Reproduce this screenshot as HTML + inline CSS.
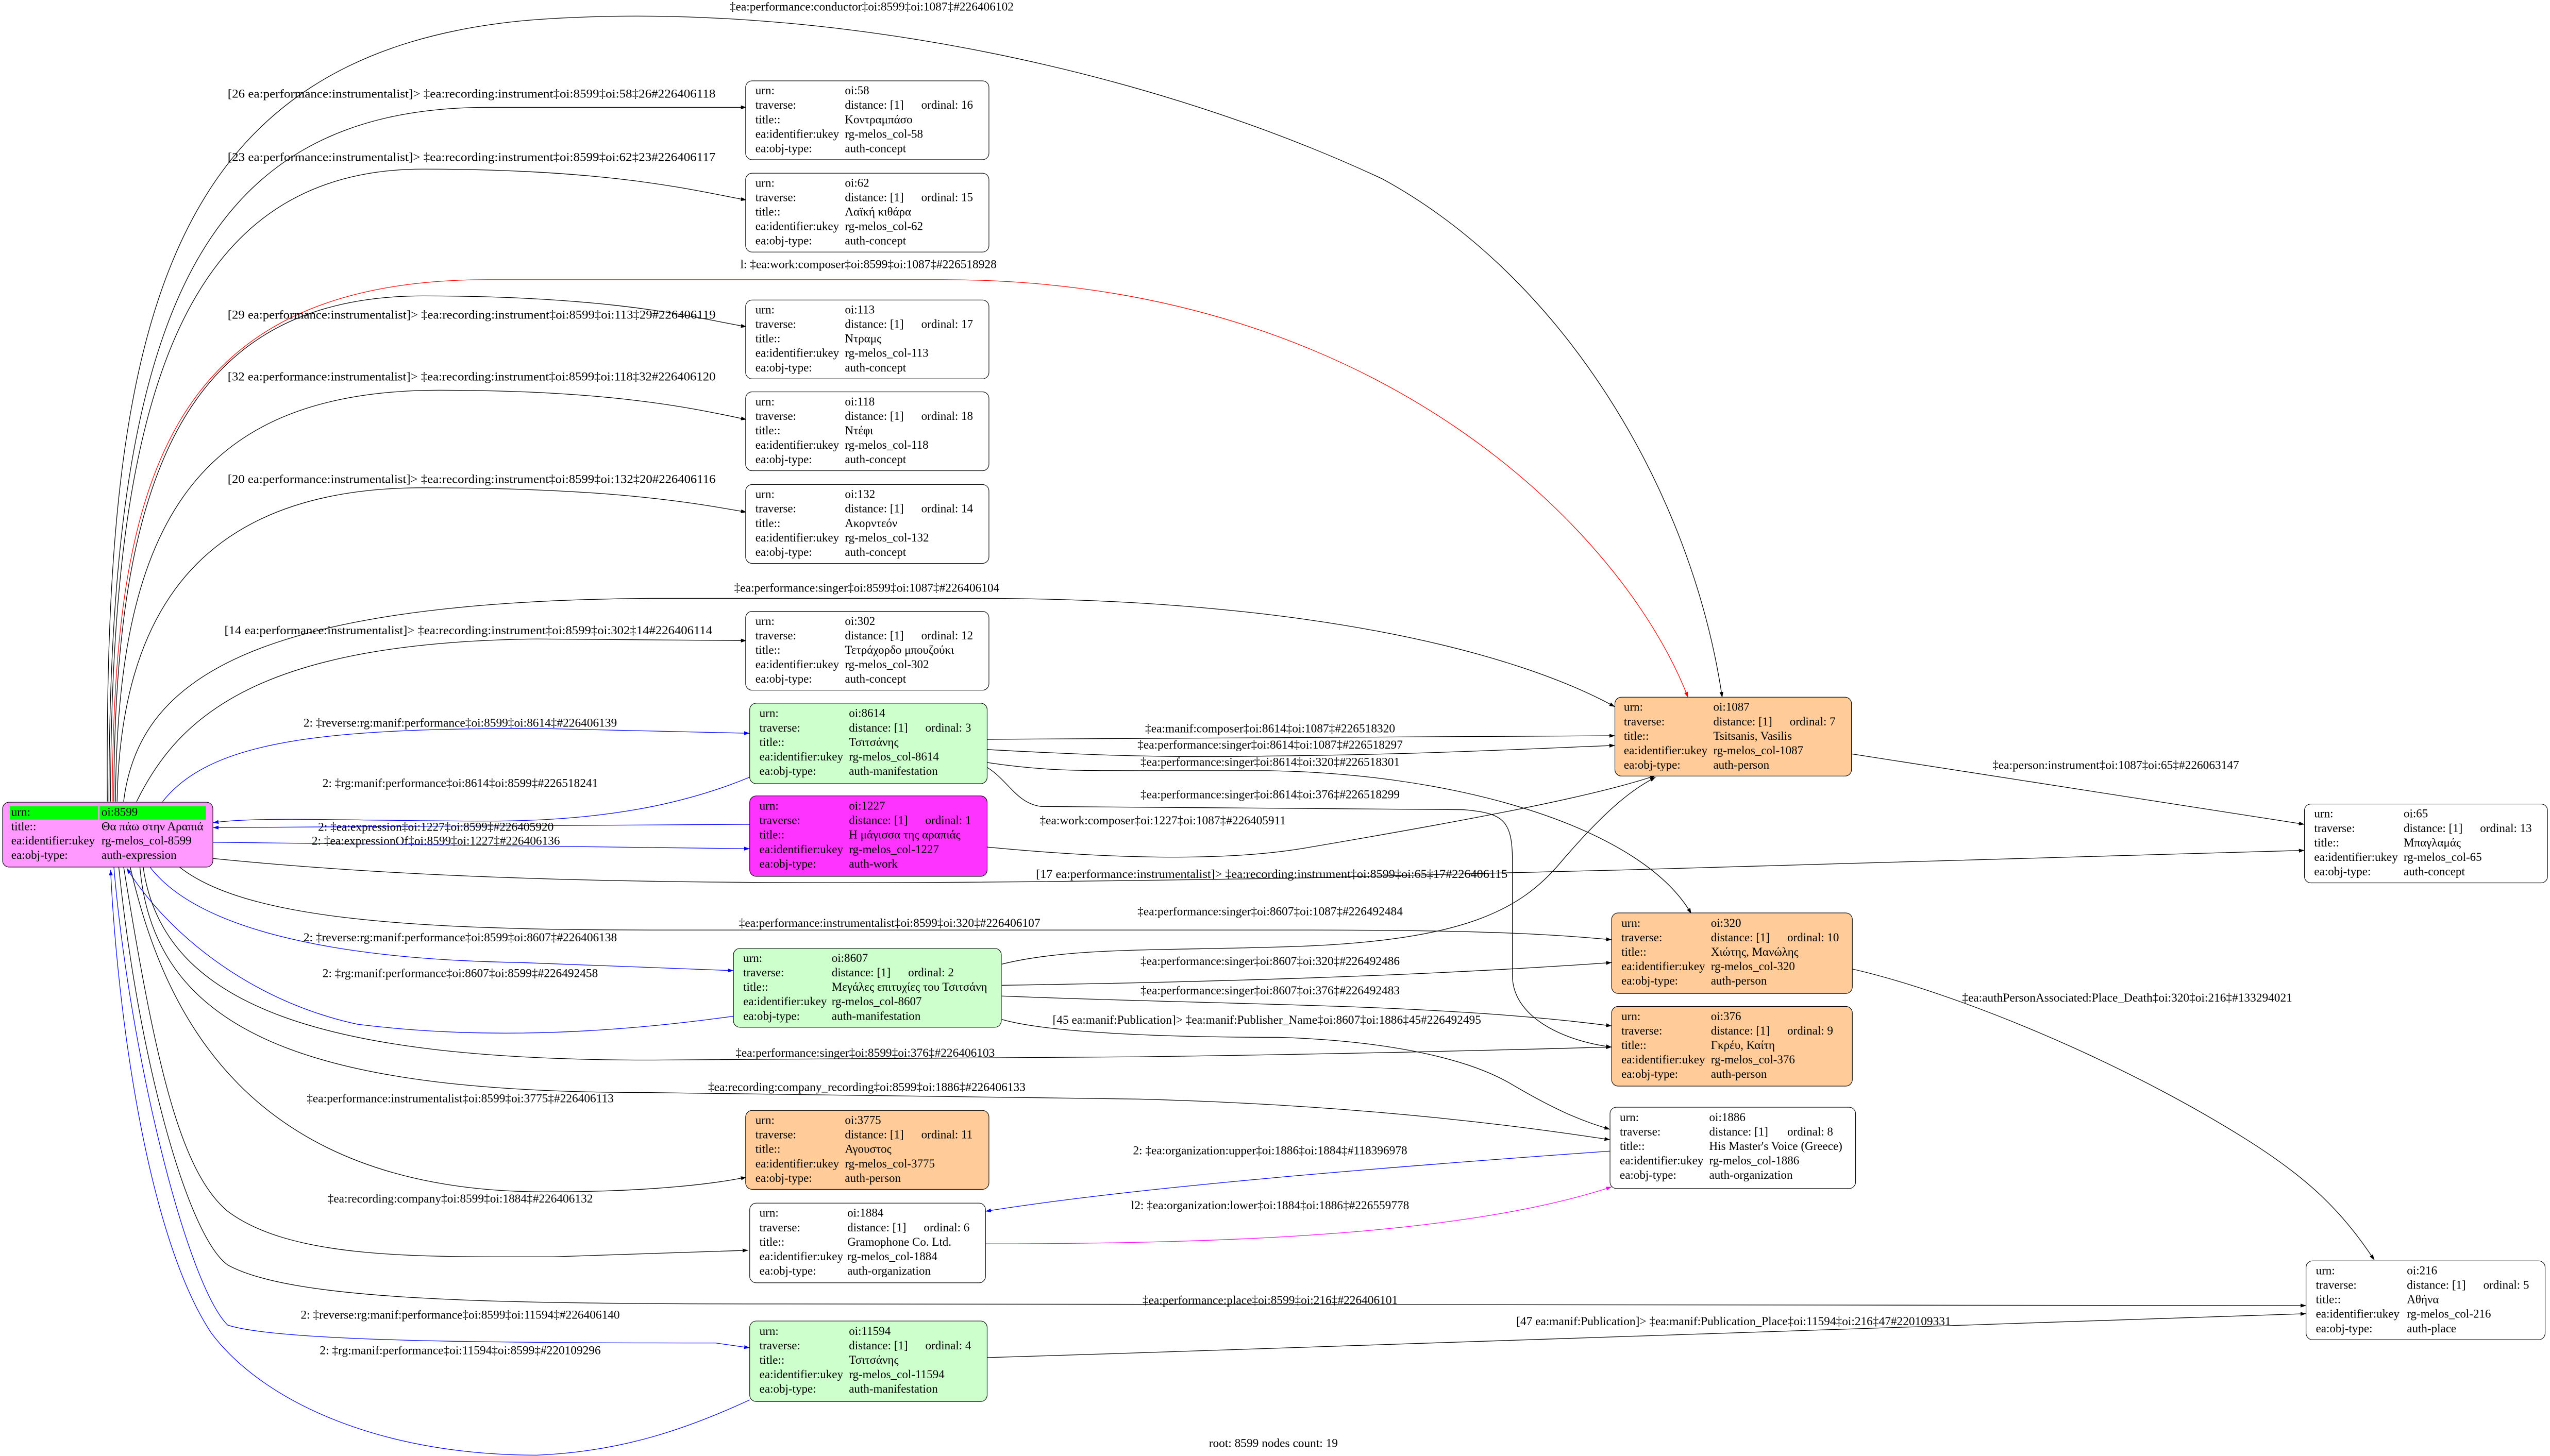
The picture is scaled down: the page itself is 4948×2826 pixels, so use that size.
<!DOCTYPE html>
<html><head><meta charset="utf-8"><style>
html,body{margin:0;padding:0;background:#fff;}
svg{display:block;}
text{font-family:"Liberation Serif","DejaVu Serif",serif;}
.n{font-size:7.3px;fill:#000;}
.l{font-size:7.4px;fill:#000;text-anchor:middle;}
.e{fill:none;stroke:#000;stroke-width:0.4;}
.b{stroke:#0000ff;}
.r{stroke:#ff0000;}
.m{stroke:#ff00ff;}
.box{stroke:#000;stroke-width:0.35;}
</style></head><body>
<svg width="4948" height="2826" viewBox="0 0 1568 895.5" xmlns="http://www.w3.org/2000/svg">
<defs>
<marker id="ak" viewBox="0 0 10 7" refX="10" refY="3.5" markerWidth="3.4" markerHeight="2.4" markerUnits="userSpaceOnUse" orient="auto"><path d="M0,0L10,3.5L0,7z" fill="#000"/></marker>
<marker id="ab" viewBox="0 0 10 7" refX="10" refY="3.5" markerWidth="3.4" markerHeight="2.4" markerUnits="userSpaceOnUse" orient="auto"><path d="M0,0L10,3.5L0,7z" fill="#0000ff"/></marker>
<marker id="ar" viewBox="0 0 10 7" refX="10" refY="3.5" markerWidth="3.4" markerHeight="2.4" markerUnits="userSpaceOnUse" orient="auto"><path d="M0,0L10,3.5L0,7z" fill="#ff0000"/></marker>
<marker id="am" viewBox="0 0 10 7" refX="10" refY="3.5" markerWidth="3.4" markerHeight="2.4" markerUnits="userSpaceOnUse" orient="auto"><path d="M0,0L10,3.5L0,7z" fill="#ff00ff"/></marker>
</defs>
<rect width="1568" height="895.5" fill="#fff"/>

<!-- EDGES -->
<path class="e" marker-end="url(#ak)" d="M66,493 C64,200 100,30 330,12 C500,0 700,40 850,110 C960,170 1040,300 1059,429"/>
<path class="e" marker-end="url(#ak)" d="M67,493 C67,200 120,66 300,66 L459,66"/>
<path class="e" marker-end="url(#ak)" d="M68,493 C68,250 110,104 260,104 C380,104 430,118 459,123"/>
<path class="e r" marker-end="url(#ar)" d="M69,493 C70,300 100,172 300,172 L580,172 C850,172 1000,330 1038,429"/>
<path class="e" marker-end="url(#ak)" d="M70,493 C70,300 110,182 260,182 C380,182 430,196 459,201"/>
<path class="e" marker-end="url(#ak)" d="M71,493 C72,330 115,240 270,240 C380,240 430,252 459,258"/>
<path class="e" marker-end="url(#ak)" d="M72,493 C74,380 120,300 260,300 C380,300 430,310 459,315"/>
<path class="e" marker-end="url(#ak)" d="M76,493 C85,420 150,370 400,368 L600,368 C800,368 930,400 993,434.7"/>
<path class="e" marker-end="url(#ak)" d="M84,493 C110,440 160,395 330,393 L459,394"/>
<path class="e b" marker-end="url(#ab)" d="M100,493 C130,455 200,448 330,448 L461,451"/>
<path class="e b" marker-end="url(#ab)" d="M461,478 C420,495 370,505 300,505 C220,505 160,502 131,506"/>
<path class="e b" marker-end="url(#ab)" d="M461,507 L131,509"/>
<path class="e b" marker-end="url(#ab)" d="M131,518 L461,522"/>
<path class="e" marker-end="url(#ak)" d="M607,521 C680,528 750,530 800,522 C900,505 980,490 1018,477"/>
<path class="e" marker-end="url(#ak)" d="M131,528 C300,545 500,545 800,540 L1000,535 C1200,530 1400,524 1417,523"/>
<path class="e" marker-end="url(#ak)" d="M1138,463.6 L1417,507"/>
<path class="e" marker-end="url(#ak)" d="M110,533 C150,565 250,572 400,572 L800,572 C900,572 950,574 991,578"/>
<path class="e b" marker-end="url(#ab)" d="M92,533 C120,570 200,590 320,592 L451,597"/>
<path class="e b" marker-end="url(#ab)" d="M451,625 C380,635 300,640 220,630 C150,615 100,570 78,534"/>
<path class="e" marker-end="url(#ak)" d="M88,533 C100,620 200,652 400,652 L700,650 C850,648 950,645 991,644"/>
<path class="e" marker-end="url(#ak)" d="M86,533 C95,640 200,672 400,672 L700,676 C850,680 950,695 990,701"/>
<path class="e" marker-end="url(#ak)" d="M80,533 C100,620 150,735 340,733 C400,733 440,728 459,724"/>
<path class="e" marker-end="url(#ak)" d="M76,533 C95,650 110,720 140,745 C180,775 260,773 340,773 L460,769"/>
<path class="e" marker-end="url(#ak)" d="M73,533 C85,650 115,760 140,778 C180,800 300,802 480,802 L1418,803"/>
<path class="e b" marker-end="url(#ab)" d="M70,533 C80,650 115,790 140,815 C170,825 300,826 440,826 L461,829"/>
<path class="e b" marker-end="url(#ab)" d="M461,861 C420,880 380,893 330,895 C230,895 160,860 130,820 C90,760 72,620 68,535"/>
<path class="e" marker-end="url(#ak)" d="M607,835 C900,826 1200,815 1418,808"/>
<path class="e" marker-end="url(#ak)" d="M607,454.7 L993,452.5"/>
<path class="e" marker-end="url(#ak)" d="M607,461 C680,465 720,466 780,465 C880,464 950,460 993,458.5"/>
<path class="e" marker-end="url(#ak)" d="M607,469 C640,474 660,474 700,474 L780,474 C900,476 1010,510 1040,562"/>
<path class="e" marker-end="url(#ak)" d="M607,472 C620,480 625,494 640,496 L900,498 C925,500 930,505 930,530 L930,600 C930,625 960,640 991,644"/>
<path class="e" marker-end="url(#ak)" d="M616,593 C660,582 720,585 800,582 C900,578 935,560 960,530 C990,495 1005,485 1018,478"/>
<path class="e" marker-end="url(#ak)" d="M616,606 C750,604 880,600 991,592"/>
<path class="e" marker-end="url(#ak)" d="M616,612.6 C700,616 780,617 850,620 C920,623 960,627 991,631"/>
<path class="e" marker-end="url(#ak)" d="M616,627 C640,634 700,638 786,638 C850,640 900,650 928,666 C960,685 975,690 990,694.6"/>
<path class="e b" marker-end="url(#ab)" d="M990,708 C850,718 700,730 606,745"/>
<path class="e m" marker-end="url(#am)" d="M606,765 C750,765 900,760 991,730"/>
<path class="e" marker-end="url(#ak)" d="M1139,596 C1200,610 1300,650 1380,700 C1420,725 1440,745 1460,775"/>

<!-- EDGE LABELS -->
<text class="l" x="536" y="6.5">‡ea:performance:conductor‡oi:8599‡oi:1087‡#226406102</text>
<text class="l" x="290" y="60" textLength="300" lengthAdjust="spacingAndGlyphs">[26 ea:performance:instrumentalist]&gt; ‡ea:recording:instrument‡oi:8599‡oi:58‡26#226406118</text>
<text class="l" x="290" y="99" textLength="300" lengthAdjust="spacingAndGlyphs">[23 ea:performance:instrumentalist]&gt; ‡ea:recording:instrument‡oi:8599‡oi:62‡23#226406117</text>
<text class="l" x="534" y="165">l: ‡ea:work:composer‡oi:8599‡oi:1087‡#226518928</text>
<text class="l" x="290" y="196" textLength="300" lengthAdjust="spacingAndGlyphs">[29 ea:performance:instrumentalist]&gt; ‡ea:recording:instrument‡oi:8599‡oi:113‡29#226406119</text>
<text class="l" x="290" y="234" textLength="300" lengthAdjust="spacingAndGlyphs">[32 ea:performance:instrumentalist]&gt; ‡ea:recording:instrument‡oi:8599‡oi:118‡32#226406120</text>
<text class="l" x="290" y="297" textLength="300" lengthAdjust="spacingAndGlyphs">[20 ea:performance:instrumentalist]&gt; ‡ea:recording:instrument‡oi:8599‡oi:132‡20#226406116</text>
<text class="l" x="533" y="364">‡ea:performance:singer‡oi:8599‡oi:1087‡#226406104</text>
<text class="l" x="288" y="390" textLength="300" lengthAdjust="spacingAndGlyphs">[14 ea:performance:instrumentalist]&gt; ‡ea:recording:instrument‡oi:8599‡oi:302‡14#226406114</text>
<text class="l" x="283" y="447">2: ‡reverse:rg:manif:performance‡oi:8599‡oi:8614‡#226406139</text>
<text class="l" x="283" y="484">2: ‡rg:manif:performance‡oi:8614‡oi:8599‡#226518241</text>
<text class="l" x="268" y="511">2: ‡ea:expression‡oi:1227‡oi:8599‡#226405920</text>
<text class="l" x="268" y="519.5">2: ‡ea:expressionOf‡oi:8599‡oi:1227‡#226406136</text>
<text class="l" x="781" y="450.5">‡ea:manif:composer‡oi:8614‡oi:1087‡#226518320</text>
<text class="l" x="781" y="460.5">‡ea:performance:singer‡oi:8614‡oi:1087‡#226518297</text>
<text class="l" x="781" y="471">‡ea:performance:singer‡oi:8614‡oi:320‡#226518301</text>
<text class="l" x="781" y="491">‡ea:performance:singer‡oi:8614‡oi:376‡#226518299</text>
<text class="l" x="715" y="507">‡ea:work:composer‡oi:1227‡oi:1087‡#226405911</text>
<text class="l" x="1301" y="473">‡ea:person:instrument‡oi:1087‡oi:65‡#226063147</text>
<text class="l" x="782" y="540" textLength="290" lengthAdjust="spacingAndGlyphs">[17 ea:performance:instrumentalist]&gt; ‡ea:recording:instrument‡oi:8599‡oi:65‡17#226406115</text>
<text class="l" x="781" y="563">‡ea:performance:singer‡oi:8607‡oi:1087‡#226492484</text>
<text class="l" x="547" y="570">‡ea:performance:instrumentalist‡oi:8599‡oi:320‡#226406107</text>
<text class="l" x="283" y="579">2: ‡reverse:rg:manif:performance‡oi:8599‡oi:8607‡#226406138</text>
<text class="l" x="781" y="593.5">‡ea:performance:singer‡oi:8607‡oi:320‡#226492486</text>
<text class="l" x="283" y="601">2: ‡rg:manif:performance‡oi:8607‡oi:8599‡#226492458</text>
<text class="l" x="781" y="611.6">‡ea:performance:singer‡oi:8607‡oi:376‡#226492483</text>
<text class="l" x="1308" y="616">‡ea:authPersonAssociated:Place_Death‡oi:320‡oi:216‡#133294021</text>
<text class="l" x="779" y="629.6">[45 ea:manif:Publication]&gt; ‡ea:manif:Publisher_Name‡oi:8607‡oi:1886‡45#226492495</text>
<text class="l" x="532" y="650">‡ea:performance:singer‡oi:8599‡oi:376‡#226406103</text>
<text class="l" x="533" y="671">‡ea:recording:company_recording‡oi:8599‡oi:1886‡#226406133</text>
<text class="l" x="283" y="678">‡ea:performance:instrumentalist‡oi:8599‡oi:3775‡#226406113</text>
<text class="l" x="781" y="710">2: ‡ea:organization:upper‡oi:1886‡oi:1884‡#118396978</text>
<text class="l" x="283" y="739.6">‡ea:recording:company‡oi:8599‡oi:1884‡#226406132</text>
<text class="l" x="781" y="743.7">l2: ‡ea:organization:lower‡oi:1884‡oi:1886‡#226559778</text>
<text class="l" x="781" y="802">‡ea:performance:place‡oi:8599‡oi:216‡#226406101</text>
<text class="l" x="283" y="811">2: ‡reverse:rg:manif:performance‡oi:8599‡oi:11594‡#226406140</text>
<text class="l" x="1066" y="815">[47 ea:manif:Publication]&gt; ‡ea:manif:Publication_Place‡oi:11594‡oi:216‡47#220109331</text>
<text class="l" x="283" y="833">2: ‡rg:manif:performance‡oi:11594‡oi:8599‡#220109296</text>
<text class="l" x="783" y="890">root: 8599 nodes count: 19</text>

<!-- ROOT NODE -->
<rect class="box" x="1.6" y="493.4" width="129.3" height="39.9" rx="4" fill="#ff99ff"/>
<rect x="6" y="495.9" width="54.4" height="8.2" fill="#00ff00"/>
<rect x="61.2" y="495.9" width="65.5" height="8.2" fill="#00ff00"/>
<g class="n">
<text x="6.9" y="501.8">urn:</text><text x="62.4" y="501.8">oi:8599</text>
<text x="6.9" y="510.6">title::</text><text x="62.4" y="510.6">Θα πάω στην Αραπιά</text>
<text x="6.9" y="519.4">ea:identifier:ukey</text><text x="62.4" y="519.4">rg-melos_col-8599</text>
<text x="6.9" y="528.2">ea:obj-type:</text><text x="62.4" y="528.2">auth-expression</text>
</g>

<g id="nodes">
<rect class="box" x="458.5" y="49.7" width="149.6" height="48.5" rx="4" fill="#fff"/>
<g class="n"><text x="464.5" y="58">urn:</text><text x="519.5" y="58">oi:58</text>
<text x="464.5" y="66.9">traverse:</text><text x="519.5" y="66.9">distance: [1]</text><text x="566.5" y="66.9">ordinal: 16</text>
<text x="464.5" y="75.8">title::</text><text x="519.5" y="75.8">Κοντραμπάσο</text>
<text x="464.5" y="84.7">ea:identifier:ukey</text><text x="519.5" y="84.7">rg-melos_col-58</text>
<text x="464.5" y="93.6">ea:obj-type:</text><text x="519.5" y="93.6">auth-concept</text></g>
<rect class="box" x="458.5" y="106.5" width="149.6" height="48.5" rx="4" fill="#fff"/>
<g class="n"><text x="464.5" y="114.8">urn:</text><text x="519.5" y="114.8">oi:62</text>
<text x="464.5" y="123.7">traverse:</text><text x="519.5" y="123.7">distance: [1]</text><text x="566.5" y="123.7">ordinal: 15</text>
<text x="464.5" y="132.6">title::</text><text x="519.5" y="132.6">Λαϊκή κιθάρα</text>
<text x="464.5" y="141.5">ea:identifier:ukey</text><text x="519.5" y="141.5">rg-melos_col-62</text>
<text x="464.5" y="150.4">ea:obj-type:</text><text x="519.5" y="150.4">auth-concept</text></g>
<rect class="box" x="458.5" y="184.5" width="149.6" height="48.5" rx="4" fill="#fff"/>
<g class="n"><text x="464.5" y="192.8">urn:</text><text x="519.5" y="192.8">oi:113</text>
<text x="464.5" y="201.7">traverse:</text><text x="519.5" y="201.7">distance: [1]</text><text x="566.5" y="201.7">ordinal: 17</text>
<text x="464.5" y="210.6">title::</text><text x="519.5" y="210.6">Ντραμς</text>
<text x="464.5" y="219.5">ea:identifier:ukey</text><text x="519.5" y="219.5">rg-melos_col-113</text>
<text x="464.5" y="228.4">ea:obj-type:</text><text x="519.5" y="228.4">auth-concept</text></g>
<rect class="box" x="458.5" y="241" width="149.6" height="48.5" rx="4" fill="#fff"/>
<g class="n"><text x="464.5" y="249.3">urn:</text><text x="519.5" y="249.3">oi:118</text>
<text x="464.5" y="258.2">traverse:</text><text x="519.5" y="258.2">distance: [1]</text><text x="566.5" y="258.2">ordinal: 18</text>
<text x="464.5" y="267.1">title::</text><text x="519.5" y="267.1">Ντέφι</text>
<text x="464.5" y="276">ea:identifier:ukey</text><text x="519.5" y="276">rg-melos_col-118</text>
<text x="464.5" y="284.9">ea:obj-type:</text><text x="519.5" y="284.9">auth-concept</text></g>
<rect class="box" x="458.5" y="298" width="149.6" height="48.5" rx="4" fill="#fff"/>
<g class="n"><text x="464.5" y="306.3">urn:</text><text x="519.5" y="306.3">oi:132</text>
<text x="464.5" y="315.2">traverse:</text><text x="519.5" y="315.2">distance: [1]</text><text x="566.5" y="315.2">ordinal: 14</text>
<text x="464.5" y="324.1">title::</text><text x="519.5" y="324.1">Ακορντεόν</text>
<text x="464.5" y="333">ea:identifier:ukey</text><text x="519.5" y="333">rg-melos_col-132</text>
<text x="464.5" y="341.9">ea:obj-type:</text><text x="519.5" y="341.9">auth-concept</text></g>
<rect class="box" x="458.5" y="376" width="149.6" height="48.5" rx="4" fill="#fff"/>
<g class="n"><text x="464.5" y="384.3">urn:</text><text x="519.5" y="384.3">oi:302</text>
<text x="464.5" y="393.2">traverse:</text><text x="519.5" y="393.2">distance: [1]</text><text x="566.5" y="393.2">ordinal: 12</text>
<text x="464.5" y="402.1">title::</text><text x="519.5" y="402.1">Τετράχορδο μπουζούκι</text>
<text x="464.5" y="411">ea:identifier:ukey</text><text x="519.5" y="411">rg-melos_col-302</text>
<text x="464.5" y="419.9">ea:obj-type:</text><text x="519.5" y="419.9">auth-concept</text></g>
<rect class="box" x="461" y="432.5" width="146" height="49.5" rx="4" fill="#ccffcc"/>
<g class="n"><text x="467" y="441">urn:</text><text x="522" y="441">oi:8614</text>
<text x="467" y="449.9">traverse:</text><text x="522" y="449.9">distance: [1]</text><text x="569" y="449.9">ordinal: 3</text>
<text x="467" y="458.8">title::</text><text x="522" y="458.8">Τσιτσάνης</text>
<text x="467" y="467.7">ea:identifier:ukey</text><text x="522" y="467.7">rg-melos_col-8614</text>
<text x="467" y="476.6">ea:obj-type:</text><text x="522" y="476.6">auth-manifestation</text></g>
<rect class="box" x="461" y="489.5" width="146" height="49.5" rx="4" fill="#ff33ff"/>
<g class="n"><text x="467" y="498">urn:</text><text x="522" y="498">oi:1227</text>
<text x="467" y="506.9">traverse:</text><text x="522" y="506.9">distance: [1]</text><text x="569" y="506.9">ordinal: 1</text>
<text x="467" y="515.8">title::</text><text x="522" y="515.8">Η μάγισσα της αραπιάς</text>
<text x="467" y="524.7">ea:identifier:ukey</text><text x="522" y="524.7">rg-melos_col-1227</text>
<text x="467" y="533.6">ea:obj-type:</text><text x="522" y="533.6">auth-work</text></g>
<rect class="box" x="451" y="583.3" width="164.7" height="48.5" rx="4" fill="#ccffcc"/>
<g class="n"><text x="457" y="591.6">urn:</text><text x="511.4" y="591.6">oi:8607</text>
<text x="457" y="600.5">traverse:</text><text x="511.4" y="600.5">distance: [1]</text><text x="558.4" y="600.5">ordinal: 2</text>
<text x="457" y="609.4">title::</text><text x="511.4" y="609.4">Μεγάλες επιτυχίες του Τσιτσάνη</text>
<text x="457" y="618.3">ea:identifier:ukey</text><text x="511.4" y="618.3">rg-melos_col-8607</text>
<text x="457" y="627.2">ea:obj-type:</text><text x="511.4" y="627.2">auth-manifestation</text></g>
<rect class="box" x="458.5" y="683" width="149.6" height="48.5" rx="4" fill="#ffcc99"/>
<g class="n"><text x="464.5" y="691.3">urn:</text><text x="519.5" y="691.3">oi:3775</text>
<text x="464.5" y="700.2">traverse:</text><text x="519.5" y="700.2">distance: [1]</text><text x="566.5" y="700.2">ordinal: 11</text>
<text x="464.5" y="709.1">title::</text><text x="519.5" y="709.1">Αγουστος</text>
<text x="464.5" y="718">ea:identifier:ukey</text><text x="519.5" y="718">rg-melos_col-3775</text>
<text x="464.5" y="726.9">ea:obj-type:</text><text x="519.5" y="726.9">auth-person</text></g>
<rect class="box" x="461" y="740" width="145" height="49" rx="4" fill="#fff"/>
<g class="n"><text x="467" y="748.4">urn:</text><text x="521" y="748.4">oi:1884</text>
<text x="467" y="757.3">traverse:</text><text x="521" y="757.3">distance: [1]</text><text x="568" y="757.3">ordinal: 6</text>
<text x="467" y="766.2">title::</text><text x="521" y="766.2">Gramophone Co. Ltd.</text>
<text x="467" y="775.1">ea:identifier:ukey</text><text x="521" y="775.1">rg-melos_col-1884</text>
<text x="467" y="784">ea:obj-type:</text><text x="521" y="784">auth-organization</text></g>
<rect class="box" x="461" y="812.5" width="146" height="49.5" rx="4" fill="#ccffcc"/>
<g class="n"><text x="467" y="821">urn:</text><text x="522" y="821">oi:11594</text>
<text x="467" y="829.9">traverse:</text><text x="522" y="829.9">distance: [1]</text><text x="569" y="829.9">ordinal: 4</text>
<text x="467" y="838.8">title::</text><text x="522" y="838.8">Τσιτσάνης</text>
<text x="467" y="847.7">ea:identifier:ukey</text><text x="522" y="847.7">rg-melos_col-11594</text>
<text x="467" y="856.6">ea:obj-type:</text><text x="522" y="856.6">auth-manifestation</text></g>
<rect class="box" x="993" y="428.8" width="145.5" height="48.5" rx="4" fill="#ffcc99"/>
<g class="n"><text x="998.5" y="437.2">urn:</text><text x="1053.5" y="437.2">oi:1087</text>
<text x="998.5" y="446.1">traverse:</text><text x="1053.5" y="446.1">distance: [1]</text><text x="1100.5" y="446.1">ordinal: 7</text>
<text x="998.5" y="455">title::</text><text x="1053.5" y="455">Tsitsanis, Vasilis</text>
<text x="998.5" y="463.9">ea:identifier:ukey</text><text x="1053.5" y="463.9">rg-melos_col-1087</text>
<text x="998.5" y="472.8">ea:obj-type:</text><text x="1053.5" y="472.8">auth-person</text></g>
<rect class="box" x="991" y="561.5" width="148" height="49.5" rx="4" fill="#ffcc99"/>
<g class="n"><text x="997" y="570">urn:</text><text x="1052" y="570">oi:320</text>
<text x="997" y="578.9">traverse:</text><text x="1052" y="578.9">distance: [1]</text><text x="1099" y="578.9">ordinal: 10</text>
<text x="997" y="587.8">title::</text><text x="1052" y="587.8">Χιώτης, Μανώλης</text>
<text x="997" y="596.7">ea:identifier:ukey</text><text x="1052" y="596.7">rg-melos_col-320</text>
<text x="997" y="605.6">ea:obj-type:</text><text x="1052" y="605.6">auth-person</text></g>
<rect class="box" x="991" y="619" width="148" height="49" rx="4" fill="#ffcc99"/>
<g class="n"><text x="997" y="627.4">urn:</text><text x="1052" y="627.4">oi:376</text>
<text x="997" y="636.3">traverse:</text><text x="1052" y="636.3">distance: [1]</text><text x="1099" y="636.3">ordinal: 9</text>
<text x="997" y="645.2">title::</text><text x="1052" y="645.2">Γκρέυ, Καίτη</text>
<text x="997" y="654.1">ea:identifier:ukey</text><text x="1052" y="654.1">rg-melos_col-376</text>
<text x="997" y="663">ea:obj-type:</text><text x="1052" y="663">auth-person</text></g>
<rect class="box" x="990" y="681" width="151" height="50" rx="4" fill="#fff"/>
<g class="n"><text x="996" y="689.5">urn:</text><text x="1051" y="689.5">oi:1886</text>
<text x="996" y="698.4">traverse:</text><text x="1051" y="698.4">distance: [1]</text><text x="1099" y="698.4">ordinal: 8</text>
<text x="996" y="707.3">title::</text><text x="1051" y="707.3">His Master's Voice (Greece)</text>
<text x="996" y="716.2">ea:identifier:ukey</text><text x="1051" y="716.2">rg-melos_col-1886</text>
<text x="996" y="725.1">ea:obj-type:</text><text x="1051" y="725.1">auth-organization</text></g>
<rect class="box" x="1417" y="494.5" width="149.5" height="48.5" rx="4" fill="#fff"/>
<g class="n"><text x="1423" y="502.8">urn:</text><text x="1478" y="502.8">oi:65</text>
<text x="1423" y="511.7">traverse:</text><text x="1478" y="511.7">distance: [1]</text><text x="1525" y="511.7">ordinal: 13</text>
<text x="1423" y="520.6">title::</text><text x="1478" y="520.6">Μπαγλαμάς</text>
<text x="1423" y="529.5">ea:identifier:ukey</text><text x="1478" y="529.5">rg-melos_col-65</text>
<text x="1423" y="538.4">ea:obj-type:</text><text x="1478" y="538.4">auth-concept</text></g>
<rect class="box" x="1418" y="775.5" width="147" height="48.5" rx="4" fill="#fff"/>
<g class="n"><text x="1424" y="783.8">urn:</text><text x="1480" y="783.8">oi:216</text>
<text x="1424" y="792.7">traverse:</text><text x="1480" y="792.7">distance: [1]</text><text x="1527" y="792.7">ordinal: 5</text>
<text x="1424" y="801.6">title::</text><text x="1480" y="801.6">Αθήνα</text>
<text x="1424" y="810.5">ea:identifier:ukey</text><text x="1480" y="810.5">rg-melos_col-216</text>
<text x="1424" y="819.4">ea:obj-type:</text><text x="1480" y="819.4">auth-place</text></g>
</g>
</svg>
</body></html>
